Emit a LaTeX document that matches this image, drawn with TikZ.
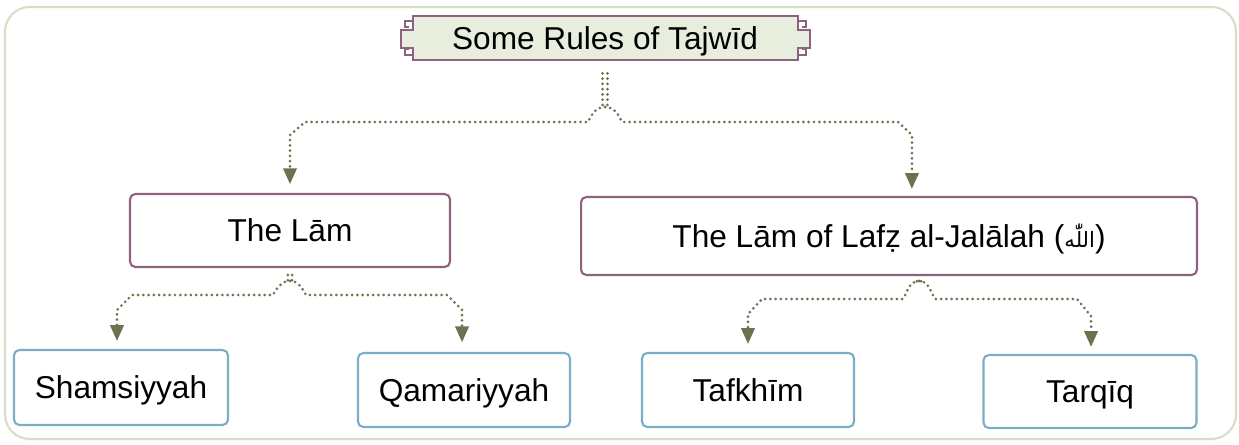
\documentclass[tikz,border=0pt]{standalone}
\usepackage{fontspec}
\setmainfont{Liberation Sans}
\newfontfamily\arabicfont[Script=Arabic]{DejaVu Sans}
\TeXXeTstate=1
\usetikzlibrary{arrows.meta}
\definecolor{lamline}{RGB}{140,98,125}
\definecolor{subline}{RGB}{120,175,196}
\definecolor{dotgreen}{RGB}{108,114,78}
\definecolor{framegray}{RGB}{214,222,200}
\definecolor{titlefill}{RGB}{232,238,221}

\begin{document}
\begin{tikzpicture}
    [x=0.02cm,y=-0.02cm,
     every node/.style={font=\fontsize{18}{21}\selectfont,inner sep=0pt,text height=13pt,text depth=0pt},
     lambox/.style={draw=lamline,line width=1.2pt,rounded corners=3pt,fill=white},
     subbox/.style={draw=subline,line width=1.2pt,rounded corners=3pt,fill=white},
     dotline/.style={draw=dotgreen,line width=1.7pt,line cap=round,dash pattern=on 0pt off 3pt},
     tip/.style={-{Triangle[width=7.5pt,length=9pt]}}]
    \useasboundingbox (0,0) rectangle (1239,445);
    \draw[framegray,line width=1.2pt,rounded corners=14pt] (5,7) rectangle (1236,439);

    \draw[lamline,fill=titlefill,line width=1pt] (413,16) -- (798,16) -- (798,30) -- (810,30) -- (810,48) -- (798,48)
        -- (798,60) -- (413,60) -- (413,48) -- (401,48) -- (401,30) -- (413,30) -- cycle;
    \draw[lamline,line width=0.8pt] (413,21) -- (405,21) -- (405,27) -- (409,27);
    \draw[lamline,line width=0.8pt] (413,55) -- (405,55) -- (405,49) -- (409,49);
    \draw[lamline,line width=0.8pt] (798,21) -- (806,21) -- (806,27) -- (802,27);
    \draw[lamline,line width=0.8pt] (798,55) -- (806,55) -- (806,49) -- (802,49);

    \node[minimum width=7.7cm,minimum height=0.88cm] (title) at (605,38) {Some Rules of Tajwīd};
    \node[lambox,minimum width=6.4cm,minimum height=1.46cm] (lam) at (290,230.5) {The Lām};
    \node[lambox,minimum width=12.32cm,minimum height=1.56cm] (jal) at (889,236)
        {The Lām of Lafẓ al-Jalālah ({\arabicfont\fontsize{12}{12}\selectfont\beginR اللّٰه\endR})};
    \node[subbox,minimum width=4.28cm,minimum height=1.5cm] (sham) at (121,387.5) {Shamsiyyah};
    \node[subbox,minimum width=4.24cm,minimum height=1.48cm] (qam) at (464,390) {Qamariyyah};
    \node[subbox,minimum width=4.24cm,minimum height=1.48cm] (taf) at (748,390) {Tafkhīm};
    \node[subbox,minimum width=4.26cm,minimum height=1.46cm] (tarq) at (1090,391.5) {Tarqīq};

    \coordinate (f0) at (605,107);
    \coordinate (f1) at (290,281);
    \coordinate (f2) at (919,281);
    \coordinate (f2top) at (jal.south -| f2);

    \foreach \dx in {-1.4pt,1.4pt}
      \draw[dotline,shorten <=7.4pt] ([xshift=\dx]title.south) -- ([xshift=\dx]f0);
    \draw[dotline,tip,shorten >=5pt] (f0) to[out=180,in=65] (588,122) -- (305,122) -- (290,135) -- (lam.north);
    \draw[dotline,tip,shorten >=4pt] (f0) to[out=0,in=115] (622,122) -- (898,122) -- (912,135) -- ([xshift=13pt]jal.north);

    \foreach \dx in {-1.2pt,1.2pt}
      \draw[dotline,shorten <=4pt] ([xshift=\dx]lam.south) -- ([xshift=\dx]f1);
    \draw[dotline,tip,shorten >=4.5pt] (f1) to[out=180,in=60] (273,295) -- (132,295) -- (117,310) -- ([xshift=-2.3pt]sham.north);
    \draw[dotline,tip,shorten >=5.5pt] (f1) to[out=0,in=120] (306,295) -- (447,295) -- (462,310) -- ([xshift=-1.1pt]qam.north);

    \foreach \dx in {-1.2pt,1.2pt}
      \draw[dotline,shorten <=3pt] ([xshift=\dx]f2top) -- ([xshift=\dx]f2);
    \draw[dotline,tip,shorten >=4.5pt] (f2) to[out=180,in=60] (903,299) -- (762,299) -- (748,314) -- (taf.north);
    \draw[dotline,tip,shorten >=4pt] (f2) to[out=0,in=120] (935,299) -- (1077,299) -- (1091,316) -- ([xshift=0.6pt]tarq.north);
\end{tikzpicture}
\end{document}
